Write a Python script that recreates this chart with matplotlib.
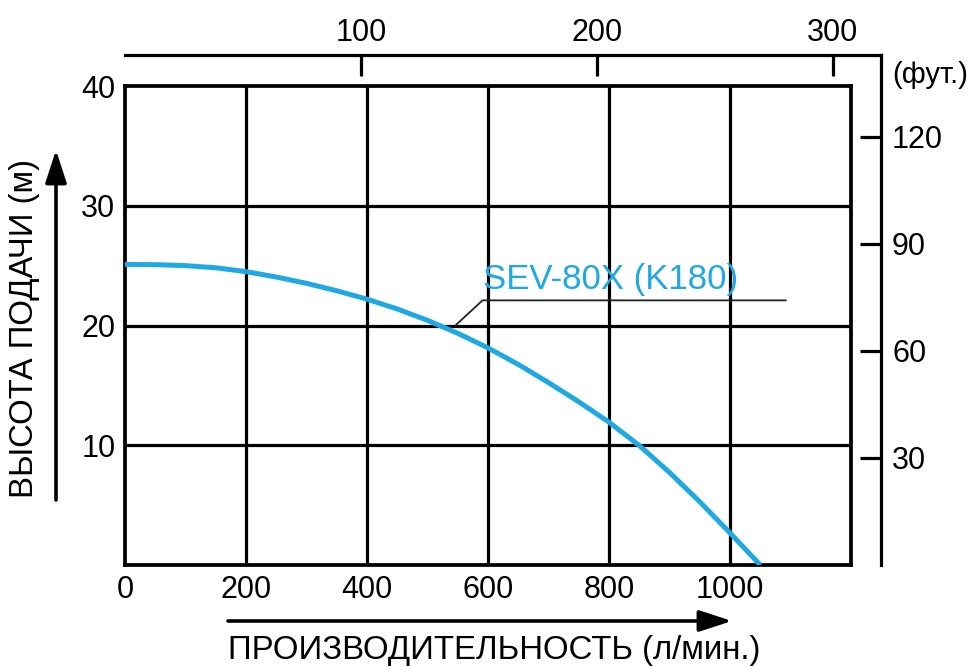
import matplotlib
matplotlib.use('Agg')
import matplotlib.pyplot as plt
from matplotlib.patches import FancyArrowPatch

plt.rcParams['font.family'] = ['Liberation Sans', 'DejaVu Sans']

# Pump curve (flow l/min, head m)
flow = [0, 50, 100, 150, 200, 250, 300, 350, 400, 450, 500, 550, 600,
        650, 700, 750, 800, 850, 900, 950, 1000, 1050]
head = [25.1, 25.08, 25.0, 24.82, 24.5, 24.05, 23.52, 22.9, 22.2, 21.38,
        20.43, 19.35, 18.13, 16.75, 15.23, 13.63, 11.93, 9.98, 7.73, 5.28,
        2.68, 0.0]

x_ticks = [0, 200, 400, 600, 800, 1000]
y_ticks = [10, 20, 30, 40]
top_ticks = [100, 200, 300]
right_ticks = [30, 60, 90, 120]
top_factor = 3.9      # l/min per top-axis unit
ft_per_m = 3.355

model_label = 'SEV-80X (K180)'
blue = '#1fa8e1'

W, H = 974, 667
fig = plt.figure(figsize=(W / 100, H / 100), dpi=100)

# main grid axes
ax = fig.add_axes([125 / W, 1 - 565 / H, (851 - 125) / W, (565 - 86) / H])
ax.set_xlim(0, 1200)
ax.set_ylim(0, 40)
for v in x_ticks[1:]:
    ax.axvline(v, color='black', lw=2.3, zorder=1)
for v in y_ticks[:-1]:
    ax.axhline(v, color='black', lw=2.3, zorder=1)
for s in ax.spines.values():
    s.set_linewidth(2.7)
ax.set_xticks(x_ticks)
ax.set_yticks(y_ticks)
ax.tick_params(length=0, labelsize=22, pad=7)
ax.plot(flow, head, color=blue, lw=3.6, zorder=3, solid_capstyle='butt',
        solid_joinstyle='round')

# label with leader line
ax.plot([546, 591, 1092], [20.0, 22.1, 22.1], color='#222222', lw=1.3, zorder=2)
ax.text(591, 22.5, model_label, color=blue, fontsize=25, ha='left', va='bottom')

# outer axes for gallons (top) and feet (right)
ax2 = fig.add_axes([125 / W, 1 - 565 / H, (881 - 125) / W, (565 - 55) / H])
ax2.patch.set_visible(False)
ax2.set_xlim(0, (881 - 125) / 0.605)
ax2.set_ylim(0, (565 - 55) / 11.975)
for side in ['left', 'bottom']:
    ax2.spines[side].set_visible(False)
for side in ['top', 'right']:
    ax2.spines[side].set_linewidth(2.3)
ax2.xaxis.tick_top()
ax2.yaxis.tick_right()
ax2.set_xticks([t * top_factor for t in top_ticks])
ax2.set_xticklabels([str(t) for t in top_ticks])
ax2.set_yticks([t / ft_per_m for t in right_ticks])
ax2.set_yticklabels([str(t) for t in right_ticks])
ax2.tick_params(direction='in', length=15, width=2.3, labelsize=22, pad=8)
ax2.tick_params(axis='x', pad=5)

fig.text(892 / W, 1 - 75 / H, '(фут.)', fontsize=21, ha='left', va='center')

# axis titles with arrows
fig.text(25 / W, 1 - 328 / H, 'ВЫСОТА ПОДАЧИ (м)', fontsize=23.7, rotation=90,
         ha='center', va='center')
fig.text(494 / W, 1 - 651 / H, 'ПРОИЗВОДИТЕЛЬНОСТЬ (л/мин.)', fontsize=23.7,
         ha='center', va='center')
fig.add_artist(FancyArrowPatch(
    (56 / W, 1 - 500 / H), (56 / W, 1 - 150 / H), transform=fig.transFigure,
    arrowstyle='-|>,head_length=20,head_width=6.5', mutation_scale=1,
    shrinkA=0, shrinkB=0, color='black', lw=2.6))
fig.add_artist(FancyArrowPatch(
    (228 / W, 1 - 621 / H), (732 / W, 1 - 621 / H), transform=fig.transFigure,
    arrowstyle='-|>,head_length=20,head_width=6.5', mutation_scale=1,
    shrinkA=0, shrinkB=0, color='black', lw=2.6))

fig.savefig('out.png', dpi=100)
